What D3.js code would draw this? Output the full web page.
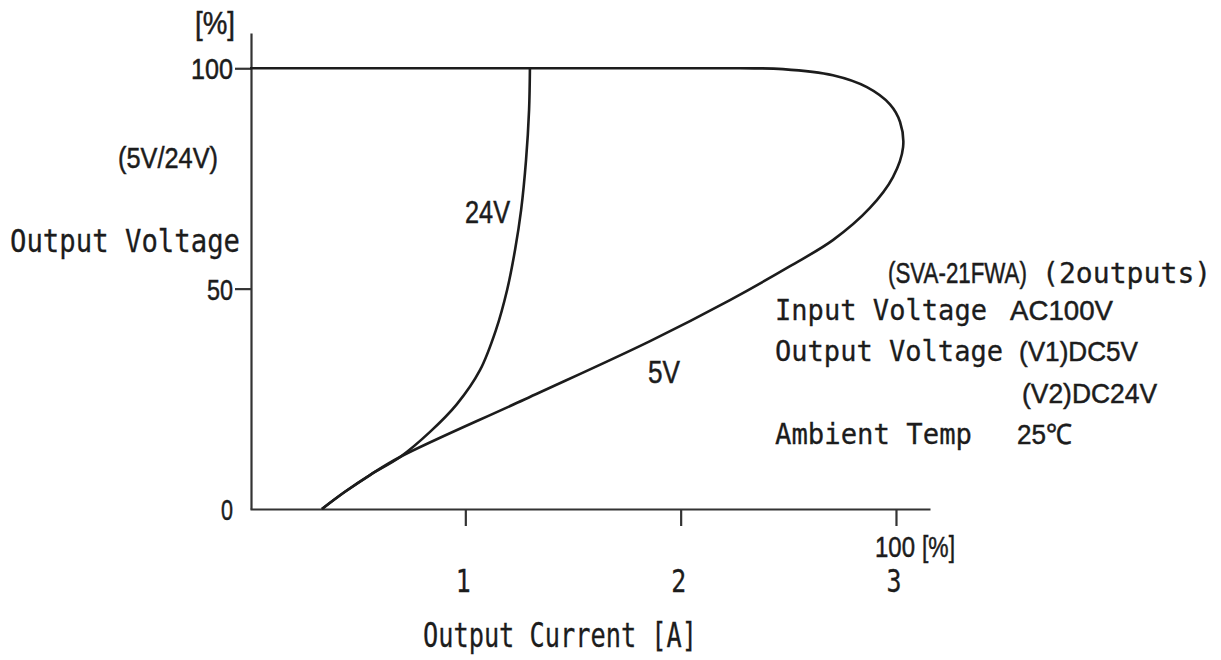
<!DOCTYPE html>
<html>
<head>
<meta charset="utf-8">
<script src="https://cdn.jsdelivr.net/npm/d3@7"></script>
<style>
  html, body { margin: 0; padding: 0; background: #fff; }
  svg { display: block; }
</style>
</head>
<body>
<svg id="chart" width="1221" height="660"></svg>
<script>
// ---- data ----
const xTicks = [1, 2, 3];
const xTickLabels = ["1", "2", "3"];
const yTicks = [0, 50, 100];
const yTickLabels = ["0", "50", "100"];

// 24V curve: output current [A] vs output voltage [%]
const v24Current = [0.334, 0.441, 0.557, 0.697, 0.836, 0.961, 1.068, 1.142, 1.194, 1.231, 1.259, 1.282, 1.296, 1.300];
const v24Voltage = [0, 3.9, 7.7, 11.8, 17.5, 23.8, 31.5, 40.6, 49.7, 58.8, 67.8, 79.2, 90.5, 100];

// 5V curve: output current [A] vs output voltage [%]
const v5Current = [0.334, 0.441, 0.557, 0.697, 1.277, 1.858, 2.229, 2.508, 2.707, 2.879, 2.986, 3.033, 3.019, 2.972, 2.865, 2.707, 2.475, 2.276, 1.300, 0];
const v5Voltage = [0, 3.9, 7.7, 11.8, 24.9, 38.1, 47.4, 55.1, 61.0, 68.3, 75.3, 82.1, 87.8, 91.8, 95.7, 98.4, 99.8, 100, 100, 100];

const svg = d3.select("#chart");
const MONO = "'DejaVu Sans Mono', monospace";
const SANS = "'Liberation Sans', Arial, sans-serif";
const INK = "#1c1c1c";

const x = d3.scaleLinear().domain([0, 3.158]).range([250, 930]);
const y = d3.scaleLinear().domain([0, 108]).range([509, 33]);

// axes
const gx = svg.append("g").attr("transform", `translate(0,${y(0)})`)
  .call(d3.axisBottom(x).tickValues(xTicks).tickSize(17).tickSizeOuter(0).tickFormat(""));
const gy = svg.append("g").attr("transform", `translate(${x(0) + 1},0)`)
  .call(d3.axisLeft(y).tickValues(yTicks.filter(v => v > 0)).tickSize(16).tickSizeOuter(0).tickFormat(""));
[gx, gy].forEach(g => {
  g.selectAll("path").attr("stroke", "#333").attr("stroke-width", 2.2);
  g.selectAll("line").attr("stroke", "#333").attr("stroke-width", 2.2);
});

// curves
const line = d3.line().x(d => x(d[0])).y(d => y(d[1])).curve(d3.curveCatmullRom.alpha(0.5));
const s24 = v24Current.map((c, i) => [c, v24Voltage[i]]);
const s5 = v5Current.map((c, i) => [c, v5Voltage[i]]);
[s5, s24].forEach(s => {
  svg.append("path").datum(s).attr("d", line)
    .attr("fill", "none").attr("stroke", INK).attr("stroke-width", 2.6)
    .attr("stroke-linejoin", "round");
});

// text helper
function txt(str, xPos, yPos, font, size, len, anchor) {
  const t = svg.append("text")
    .attr("x", xPos).attr("y", yPos)
    .attr("font-family", font).attr("font-size", size)
    .attr("fill", INK)
    .attr("stroke", INK).attr("stroke-width", font === SANS ? 0.5 : 0.3)
    .attr("text-anchor", anchor || "start")
    .text(str);
  if (len) t.attr("textLength", len).attr("lengthAdjust", "spacingAndGlyphs");
  return t;
}
// horizontally scaled text (bounding box follows the squeeze)
function sq(str, xPos, yPos, font, size, sx) {
  return svg.append("text")
    .attr("transform", `translate(${xPos},${yPos}) scale(${sx},1)`)
    .attr("font-family", font).attr("font-size", size)
    .attr("fill", INK)
    .attr("stroke", INK).attr("stroke-width", font === SANS ? 0.5 : 0.3)
    .text(str);
}

// y tick labels
const yLabelLen = { "0": 12, "50": 26, "100": 42 };
yTicks.forEach((v, i) => {
  txt(yTickLabels[i], 233, y(v) + 11, SANS, 30, yLabelLen[yTickLabels[i]], "end");
});
// x tick labels
xTicks.forEach((v, i) => {
  txt(xTickLabels[i], x(v) - 2, 592, MONO, 32, 15, "middle");
});

txt("[%]", 195, 34, SANS, 31, 40);
txt("(5V/24V)", 118, 168, SANS, 30, 100);
txt("Output Voltage", 10, 252, MONO, 32, 230);
txt("24V", 465, 223, SANS, 32, 45);
txt("5V", 648, 383, SANS, 32, 32);

txt("100", 875, 557, SANS, 29, 40);
txt("[%]", 922, 557, SANS, 30, 33);
txt("Output Current [A]", 423, 647, MONO, 33, 274);

// specification block
sq("(SVA-21FWA)", 888, 283, SANS, 29, 0.77);
sq("(2outputs)", 1042, 283, MONO, 29, 0.97);
txt("Input Voltage", 775, 320, MONO, 29, 212);
txt("AC100V", 1010, 320, SANS, 28, 103);
txt("Output Voltage", 775, 361, MONO, 29, 228);
txt("(V1)DC5V", 1019, 361, SANS, 28, 119);
txt("(V2)DC24V", 1022, 403, SANS, 28, 135);
txt("Ambient Temp", 775, 444, MONO, 29, 197);
txt("25℃", 1017, 444, SANS, 28, 55);
</script>
</body>
</html>
